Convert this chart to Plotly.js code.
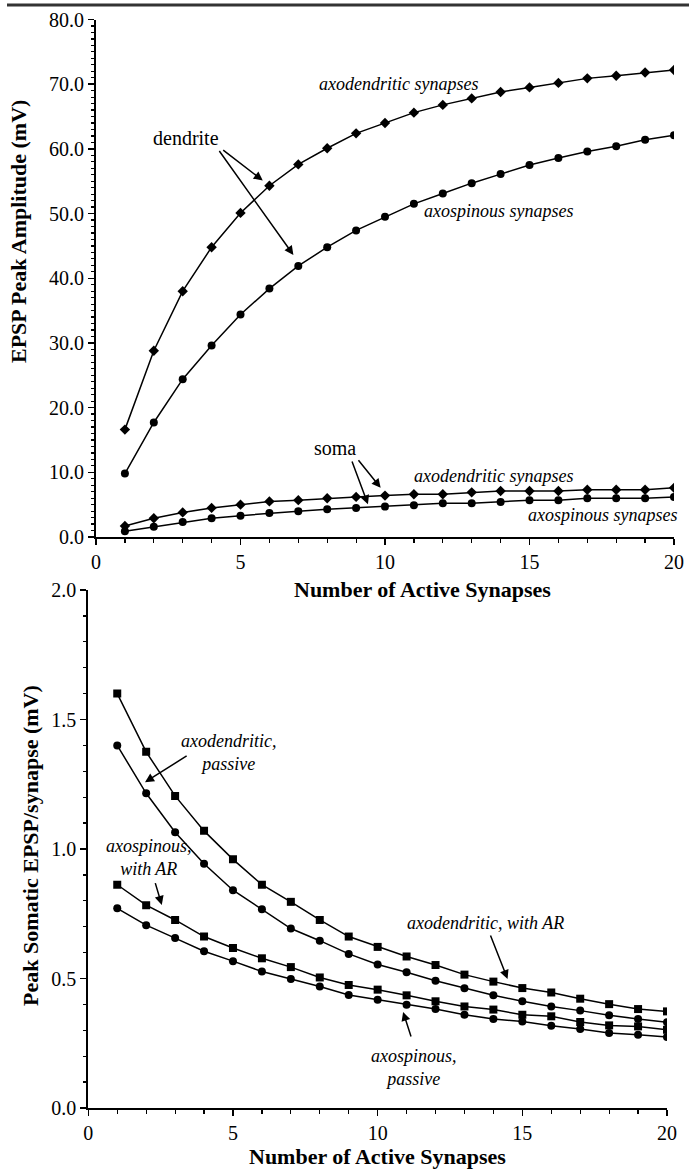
<!DOCTYPE html>
<html><head><meta charset="utf-8">
<script src="https://cdn.plot.ly/plotly-3.0.1.min.js"></script>
<style>html,body{margin:0;padding:0;background:#fff}#chart{width:689px;height:1169px}</style>
</head><body><div id="chart"></div>
<script>
// ---- data ----
const synapses = [1,2,3,4,5,6,7,8,9,10,11,12,13,14,15,16,17,18,19,20];
// top panel: EPSP peak amplitude (mV)
const dendAxodendritic = [16.6,28.8,38.0,44.8,50.1,54.3,57.6,60.1,62.4,64.0,65.6,66.8,67.8,68.8,69.5,70.2,70.9,71.3,71.8,72.2];
const dendAxospinous   = [9.8,17.7,24.4,29.6,34.4,38.4,41.9,44.8,47.4,49.5,51.5,53.1,54.7,56.1,57.5,58.6,59.6,60.4,61.4,62.1];
const somaAxodendritic = [1.7,2.9,3.8,4.5,5.0,5.5,5.7,6.0,6.2,6.4,6.6,6.6,6.9,7.1,7.1,7.1,7.3,7.3,7.3,7.6];
const somaAxospinous   = [0.9,1.6,2.3,2.9,3.3,3.7,4.0,4.3,4.5,4.7,4.9,5.2,5.2,5.4,5.7,5.7,6.0,6.0,6.0,6.2];
// bottom panel: peak somatic EPSP / synapse (mV)
const axodendriticAR      = [1.600,1.375,1.205,1.070,0.960,0.862,0.796,0.726,0.662,0.622,0.585,0.552,0.515,0.488,0.463,0.446,0.422,0.401,0.382,0.373];
const axodendriticPassive = [1.400,1.215,1.065,0.943,0.841,0.767,0.693,0.646,0.595,0.554,0.524,0.491,0.462,0.435,0.412,0.392,0.376,0.358,0.344,0.331];
const axospinousAR        = [0.862,0.783,0.726,0.662,0.618,0.578,0.544,0.504,0.475,0.457,0.435,0.412,0.392,0.380,0.360,0.354,0.332,0.319,0.315,0.302];
const axospinousPassive   = [0.771,0.706,0.656,0.605,0.567,0.527,0.498,0.469,0.436,0.418,0.399,0.382,0.360,0.344,0.334,0.318,0.305,0.290,0.283,0.274];
const topYTicks = [0,10,20,30,40,50,60,70,80];
const botYTicks = [0,0.5,1.0,1.5,2.0];
const xTicks = [0,5,10,15,20];

// ---- style ----
const FONT = 'Liberation Serif, Times New Roman, serif';
const line = {color:'#000', width:1.5};
function tr(y, sym, size, xa, ya){
  return {x:synapses, y:y, mode:'lines+markers', type:'scatter', xaxis:xa, yaxis:ya,
    line:line, marker:{symbol:sym, size:size, color:'#000'}, showlegend:false, hoverinfo:'skip'};
}
const traces = [
  tr(dendAxodendritic,'diamond',8,'x','y'),
  tr(dendAxospinous,'circle',8,'x','y'),
  tr(somaAxodendritic,'diamond',8,'x','y'),
  tr(somaAxospinous,'circle',8,'x','y'),
  tr(axodendriticAR,'square',8,'x2','y2'),
  tr(axodendriticPassive,'circle',8,'x2','y2'),
  tr(axospinousAR,'square',8,'x2','y2'),
  tr(axospinousPassive,'circle',8,'x2','y2')
];

const tickFont = {family:FONT, size:20, color:'#000'};
function xAxis(domain, anchor){
  return {domain:domain, anchor:anchor, range:[0,20], tickvals:xTicks, ticktext:xTicks.map(String),
    ticks:'outside', ticklen:6, tickwidth:1.5, tickcolor:'#000', showline:true, linewidth:2, linecolor:'#000',
    showgrid:false, zeroline:false, tickfont:tickFont,
    minor:{dtick:1, ticks:'outside', ticklen:4, tickwidth:1.2, tickcolor:'#000', showgrid:false}};
}
function yAxis(domain, anchor, range, vals, minorDt){
  return {domain:domain, anchor:anchor, range:range, tickvals:vals, ticktext:vals.map(v=>v.toFixed(1)),
    ticks:'outside', ticklen:6, tickwidth:1.5, tickcolor:'#000', showline:true, linewidth:2, linecolor:'#000',
    showgrid:false, zeroline:false, tickfont:tickFont,
    minor:{dtick:minorDt, ticks:'outside', ticklen:3, tickwidth:1.2, tickcolor:'#000', showgrid:false}};
}

const it = (txt,x,y,xref,yref)=>({text:txt, x:x, y:y, xref:xref, yref:yref, showarrow:false,
  xanchor:'center', yanchor:'middle', font:{family:FONT, size:18, color:'#000', style:'italic'}});
const up = (txt,x,y,xref,yref)=>({text:txt, x:x, y:y, xref:xref, yref:yref, showarrow:false,
  xanchor:'center', yanchor:'middle', font:{family:FONT, size:20, color:'#000'}});
const arrow = (x0,y0,x1,y1,xref,yref)=>({text:'', x:x1, y:y1, ax:x0, ay:y0, xref:xref, yref:yref,
  axref:xref, ayref:yref, showarrow:true, arrowhead:2, arrowsize:1.2, arrowwidth:1.5, arrowcolor:'#000', standoff:0});
const title = (txt,x,y,rot)=>({text:'<b>'+txt+'</b>', x:x/689, y:1-y/1169, xref:'paper', yref:'paper',
  xanchor:'center', yanchor:'middle', showarrow:false, textangle:rot||0, font:{family:FONT, size:22, color:'#000'}});

const annotations = [
  it('axodendritic synapses',10.45,70.0,'x','y'),
  it('axospinous synapses',13.94,50.4,'x','y'),
  up('dendrite',3.11,61.7,'x','y'),
  arrow(4.35,60.0,5.77,55.1,'x','y'),
  arrow(4.23,59.9,6.83,43.6,'x','y'),
  up('soma',8.27,13.8,'x','y'),
  arrow(9.04,12.1,9.85,7.6,'x','y'),
  arrow(8.84,11.9,9.41,5.06,'x','y'),
  it('axodendritic synapses',13.77,9.44,'x','y'),
  it('axospinous synapses',17.54,3.4,'x','y'),
  it('axodendritic,<br>passive',4.83,1.371,'x2','y2'),
  arrow(3.45,1.363,1.96,1.258,'x2','y2'),
  it('axospinous,<br>with AR',2.10,0.969,'x2','y2'),
  arrow(2.30,0.874,2.54,0.784,'x2','y2'),
  it('axodendritic, with AR',13.74,0.713,'x2','y2'),
  arrow(13.88,0.672,14.49,0.498,'x2','y2'),
  it('axospinous,<br>passive',11.25,0.158,'x2','y2'),
  arrow(11.17,0.270,10.88,0.371,'x2','y2'),
  title('Number of Active Synapses',422,589),
  title('Number of Active Synapses',378,1156),
  title('EPSP Peak Amplitude (mV)',19,232,-90),
  title('Peak Somatic EPSP/synapse (mV)',30,846,-90)
];

const layout = {
  width:689, height:1169, margin:{l:0,r:0,t:0,b:0}, paper_bgcolor:'#fff', plot_bgcolor:'#fff',
  font:{family:FONT, color:'#000'},
  xaxis: xAxis([96/689, 674/689],'y'),
  yaxis: yAxis([1-537/1169, 1-19.5/1169],'x',[0,80],topYTicks,1),
  xaxis2: xAxis([88.3/689, 667/689],'y2'),
  yaxis2: yAxis([1-1108/1169, 1-590/1169],'x2',[0,2],botYTicks,0.1),
  annotations: annotations,
  shapes:[{type:'line', xref:'paper', yref:'paper', x0:7/689, x1:1, y0:1-5/1169, y1:1-5/1169,
    line:{color:'#333', width:3}}]
};
Plotly.newPlot('chart', traces, layout, {staticPlot:true, displayModeBar:false});
</script></body></html>
